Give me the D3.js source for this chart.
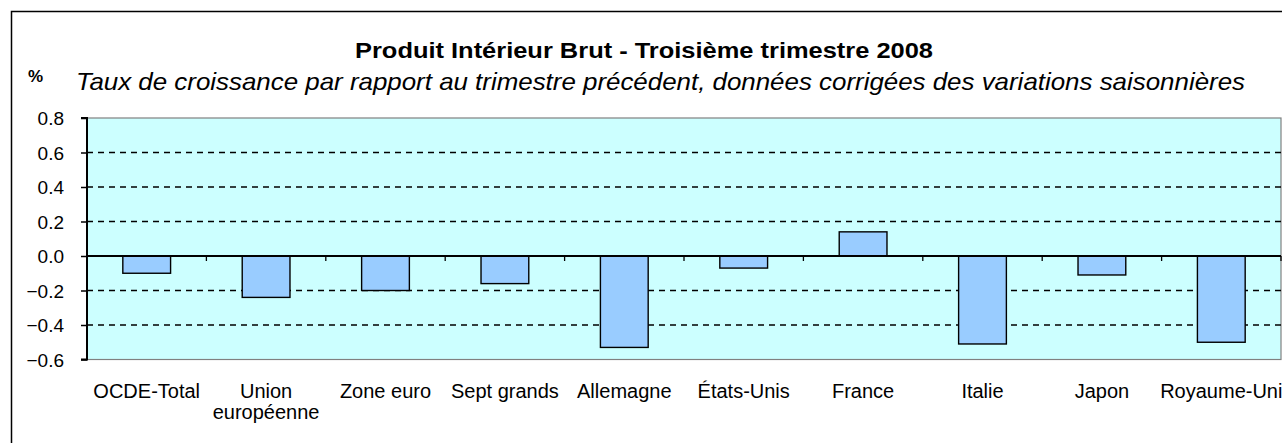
<!DOCTYPE html>
<html><head><meta charset="utf-8">
<script src="https://cdn.jsdelivr.net/npm/d3@7"></script>
<style>
html,body{margin:0;padding:0;background:#fff;overflow:hidden;}
text{font-family:"Liberation Sans",Arial,sans-serif;fill:#000;}
</style></head>
<body>
<svg id="chart" width="1282" height="443"></svg>
<script>
const categories = ["OCDE-Total", "Union européenne", "Zone euro", "Sept grands", "Allemagne", "États-Unis", "France", "Italie", "Japon", "Royaume-Uni"];
const values = [-0.10, -0.24, -0.20, -0.16, -0.53, -0.07, 0.14, -0.51, -0.11, -0.50];
const yTicks = [0.8, 0.6, 0.4, 0.2, 0.0, -0.2, -0.4, -0.6];
const title = "Produit Intérieur Brut - Troisième trimestre 2008";
const subtitle = "Taux de croissance par rapport au trimestre précédent, données corrigées des variations saisonnières";
const unitLabel = "%";

const svg = d3.select("#chart");
const m = {left: 87, right: 1281, top: 118, bottom: 359.5};

// outer border
svg.append("rect").attr("x", 11.5).attr("y", 11.5).attr("width", 1300).attr("height", 460)
  .attr("fill", "none").attr("stroke", "#000").attr("stroke-width", 1.5);

const x = d3.scaleBand().domain(categories).range([m.left, m.right]).paddingInner(0.6).paddingOuter(0.3);
const y = d3.scaleLinear().domain([-0.6, 0.8]).range([m.bottom, m.top]);

// plot background
svg.append("rect").attr("x", m.left).attr("y", m.top).attr("width", m.right - m.left).attr("height", m.bottom - m.top)
  .attr("fill", "#CCFFFF").attr("stroke", "#808080").attr("stroke-width", 1.2);

// gridlines
svg.append("g").selectAll("line").data(yTicks.filter(v => v !== 0 && v !== 0.8 && v !== -0.6)).join("line")
  .attr("x1", m.left).attr("x2", m.right)
  .attr("y1", d => y(d)).attr("y2", d => y(d))
  .attr("stroke", "#000").attr("stroke-width", 1.7).attr("stroke-dasharray", "6,5");

// bars
svg.append("g").selectAll("rect").data(values).join("rect")
  .attr("x", (d, i) => x(categories[i]))
  .attr("width", x.bandwidth())
  .attr("y", d => y(Math.max(0, d)))
  .attr("height", d => Math.abs(y(d) - y(0)))
  .attr("fill", "#99CCFF").attr("stroke", "#000").attr("stroke-width", 1.4);

// zero line
svg.append("line").attr("x1", m.left).attr("x2", m.right).attr("y1", y(0)).attr("y2", y(0))
  .attr("stroke", "#000").attr("stroke-width", 2.2);

// category ticks on zero line
const step = x.step();
const bounds = d3.range(1, categories.length + 1).map(i => m.left + i * step);
svg.append("g").selectAll("line").data(bounds).join("line")
  .attr("x1", d => d).attr("x2", d => d).attr("y1", y(0)).attr("y2", y(0) + 5)
  .attr("stroke", "#000").attr("stroke-width", 1.3);

// y axis
const yAxis = d3.axisLeft(y).tickValues(yTicks).tickFormat(d3.format(".1f")).tickSize(6).tickPadding(17);
const gy = svg.append("g").attr("transform", `translate(${m.left},0)`).call(yAxis);
gy.select(".domain").attr("stroke", "#000").attr("stroke-width", 2).attr("d", `M-6,${m.top}H0V${m.bottom}H-6`);
gy.selectAll(".tick line").attr("stroke", "#000").attr("stroke-width", 1.5);
gy.selectAll(".tick text").attr("font-size", 19).attr("font-family", "Liberation Sans, Arial, sans-serif").attr("fill", "#000").attr("dy", "0.35em")
  .attr("x", -23);

// x labels
const labelLines = {"Union européenne": ["Union", "européenne"]};
const gx = svg.append("g");
categories.forEach(c => {
  const lines = labelLines[c] || [c];
  const t = gx.append("text").attr("x", x(c) + x.bandwidth() / 2).attr("y", 398)
    .attr("text-anchor", "middle").attr("font-size", 20);
  lines.forEach((l, k) => t.append("tspan").attr("x", x(c) + x.bandwidth() / 2).attr("dy", k === 0 ? 0 : 21).text(l));
});

// titles
svg.append("text").attr("x", 355).attr("y", 58).attr("textLength", 578).attr("lengthAdjust", "spacingAndGlyphs")
  .attr("font-size", 22).attr("font-weight", "bold").text(title);
svg.append("text").attr("x", 76).attr("y", 90).attr("textLength", 1169).attr("lengthAdjust", "spacingAndGlyphs")
  .attr("font-size", 24).attr("font-style", "italic").text(subtitle);
svg.append("text").attr("x", 28).attr("y", 82).attr("font-size", 17).attr("font-weight", "bold").text(unitLabel);
</script>
</body></html>
